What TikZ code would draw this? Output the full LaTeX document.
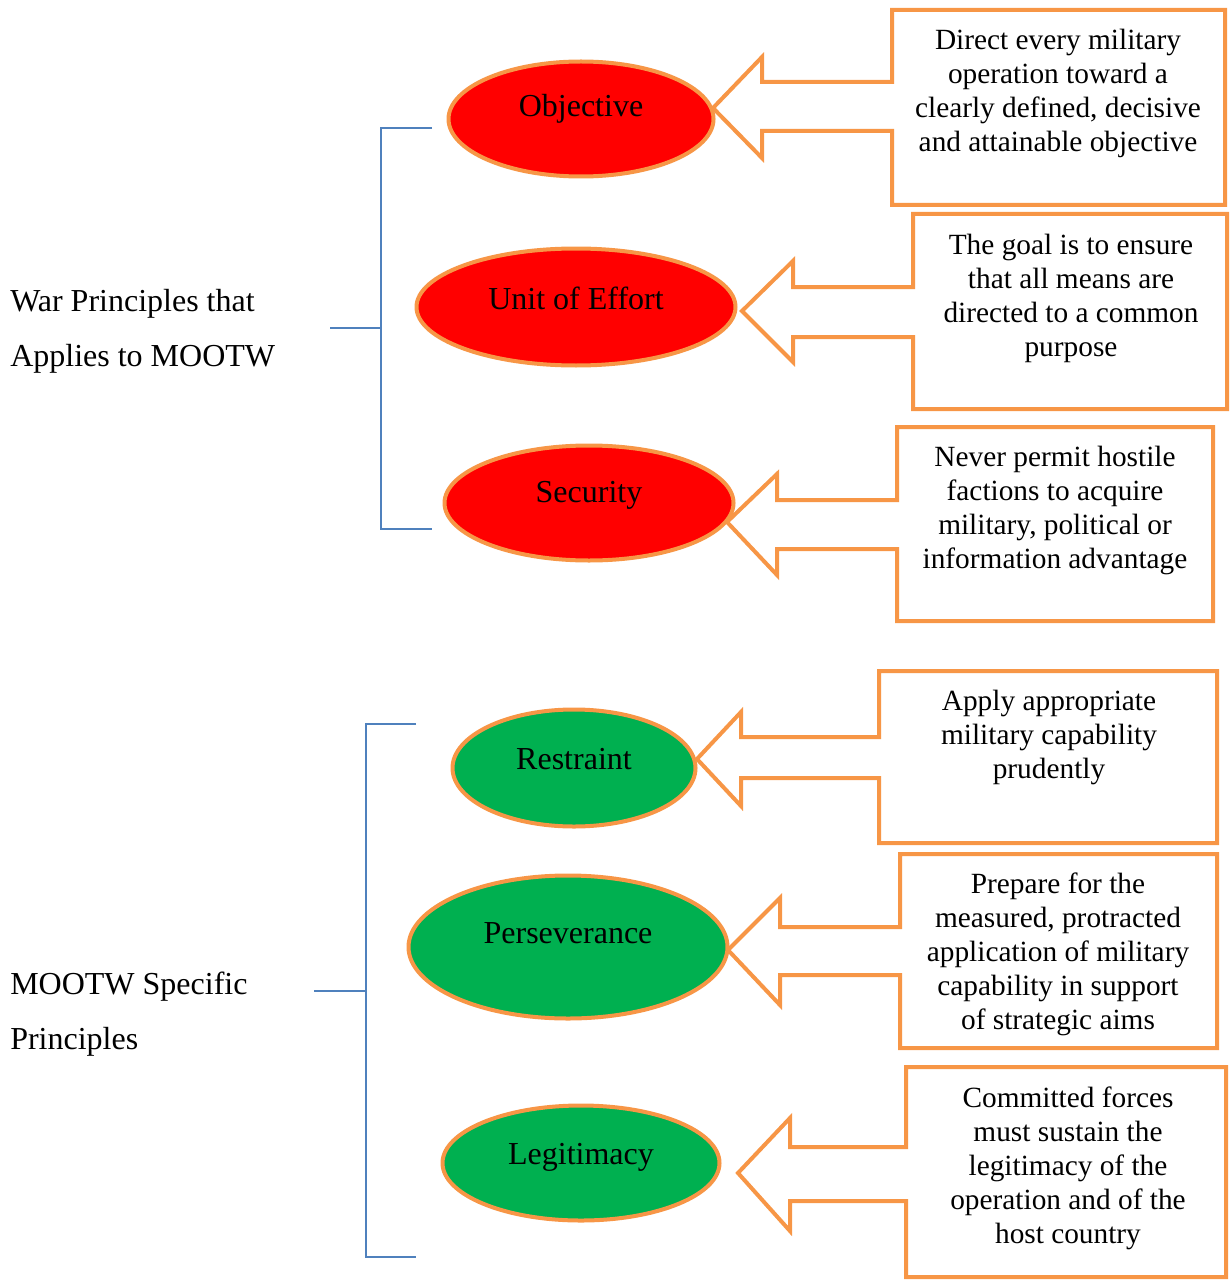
\documentclass[tikz,border=0pt]{standalone}
\usepackage{fontspec}
\setmainfont{Liberation Serif}
\usepackage{tikz}
\usepackage{xcolor}
\usetikzlibrary{shapes.geometric}
\usetikzlibrary{positioning}

\definecolor{accorange}{HTML}{F79646}
\definecolor{accblue}{HTML}{4F81BD}
\definecolor{accgreen}{HTML}{00B050}
\def\px{0.75pt}
\newcommand{\lift}[2]{\raisebox{#1}[\height][\depth]{#2}}

\tikzset{
    oval/.style={ellipse, draw=accorange, line width=3pt, inner sep=0pt, font=\fontsize{24}{28}\selectfont},
    warnode/.style={oval, fill=red},
    ootwnode/.style={oval, fill=accgreen},
    calloutline/.style={draw=accorange, line width=3pt, fill=white, line join=miter},
    callouttext/.style={align=center, font=\fontsize{22}{25.5}\selectfont},
    bracket/.style={accblue, line width=1.5pt},
    grouplabel/.style={anchor=west, align=left, inner sep=0pt, font=\fontsize{24}{41}\selectfont}
}

\begin{document}
\begin{tikzpicture}[x=0.75pt, y=-0.75pt]
    \useasboundingbox (0,0) rectangle (1229,1280);

    \node[grouplabel] (warlbl) at (10,331) {War Principles that\\Applies to MOOTW};
    \node[grouplabel] (ootwlbl) at (10,1014) {MOOTW Specific\\Principles};

    \coordinate (wartop) at (432,128);
    \coordinate (warbot) at (432,529);
    \coordinate (warmid) at (381,328);
    \coordinate (warstub) at (330,328);
    \draw[bracket] (wartop) -- ++(-51,0) |- (warbot);
    \draw[bracket] (warstub) -- (warmid);

    \coordinate (ootwtop) at (416,724);
    \coordinate (ootwbot) at (416,1257);
    \coordinate (ootwmid) at (366,991);
    \coordinate (ootwstub) at (314,991);
    \draw[bracket] (ootwtop) -- ++(-50,0) |- (ootwbot);
    \draw[bracket] (ootwstub) -- (ootwmid);

    % box left/right/top/bottom, shaft, head, tip
    \foreach \xl/\xr/\yt/\yb/\sa/\sb/\hx/\ha/\hb/\tx/\ty in {
        892/1225/10/205/82/131/762/57/158/713/108,
        913/1227/214/409/287/337/793/261/362/742/311,
        897/1213/427/621/500/549/777/474/575/727/522,
        879/1217/671/843/737/778/741/712/806/697/759,
        900/1217/854/1048/927/975/780/898/1005/728/950,
        906/1226/1067/1277/1147/1201/790/1118/1231/738/1173}
        \draw[calloutline] (\xl,\yt) -- (\xr,\yt) -- (\xr,\yb) -- (\xl,\yb) -- (\xl,\sb)
            -- (\hx,\sb) -- (\hx,\hb) -- (\tx,\ty) -- (\hx,\ha) -- (\hx,\sa) -- (\xl,\sa) -- cycle;

    \node[callouttext] (objtxt) at (1058,93) {Direct every military\\operation toward a\\clearly defined, decisive\\and attainable objective};
    \node[callouttext] (unitytxt) at (1071,298) {The goal is to ensure\\that all means are\\directed to a common\\purpose};
    \node[callouttext] (sectxt) at (1055,510.5) {Never permit hostile\\factions to acquire\\military, political or\\information advantage};
    \node[callouttext] (restrtxt) at (1049,737.5) {Apply appropriate\\military capability\\prudently};
    \node[callouttext] (perstxt) at (1058,954.5) {Prepare for the\\measured, protracted\\application of military\\capability in support\\of strategic aims};
    \node[callouttext] (legittxt) at (1068,1168) {Committed forces\\must sustain the\\legitimacy of the\\operation and of the\\host country};

    \node[warnode, minimum width=265*\px, minimum height=115*\px] (obj) at (581,119) {\lift{8pt}{Objective}};
    \node[warnode, minimum width=319*\px, minimum height=117*\px] (unity) at (576,307) {\lift{6.75pt}{Unit of Effort}};
    \node[warnode, minimum width=289*\px, minimum height=115*\px] (sec) at (589,503) {\lift{6pt}{Security}};
    \node[ootwnode, minimum width=243*\px, minimum height=117*\px] (restr) at (574,768) {\lift{6.75pt}{Restraint}};
    \node[ootwnode, minimum width=319*\px, minimum height=143*\px] (pers) at (568,947) {\lift{10.5pt}{Perseverance}};
    \node[ootwnode, minimum width=277*\px, minimum height=115*\px] (legit) at (581,1163) {\lift{4.5pt}{Legitimacy}};
\end{tikzpicture}
\end{document}
